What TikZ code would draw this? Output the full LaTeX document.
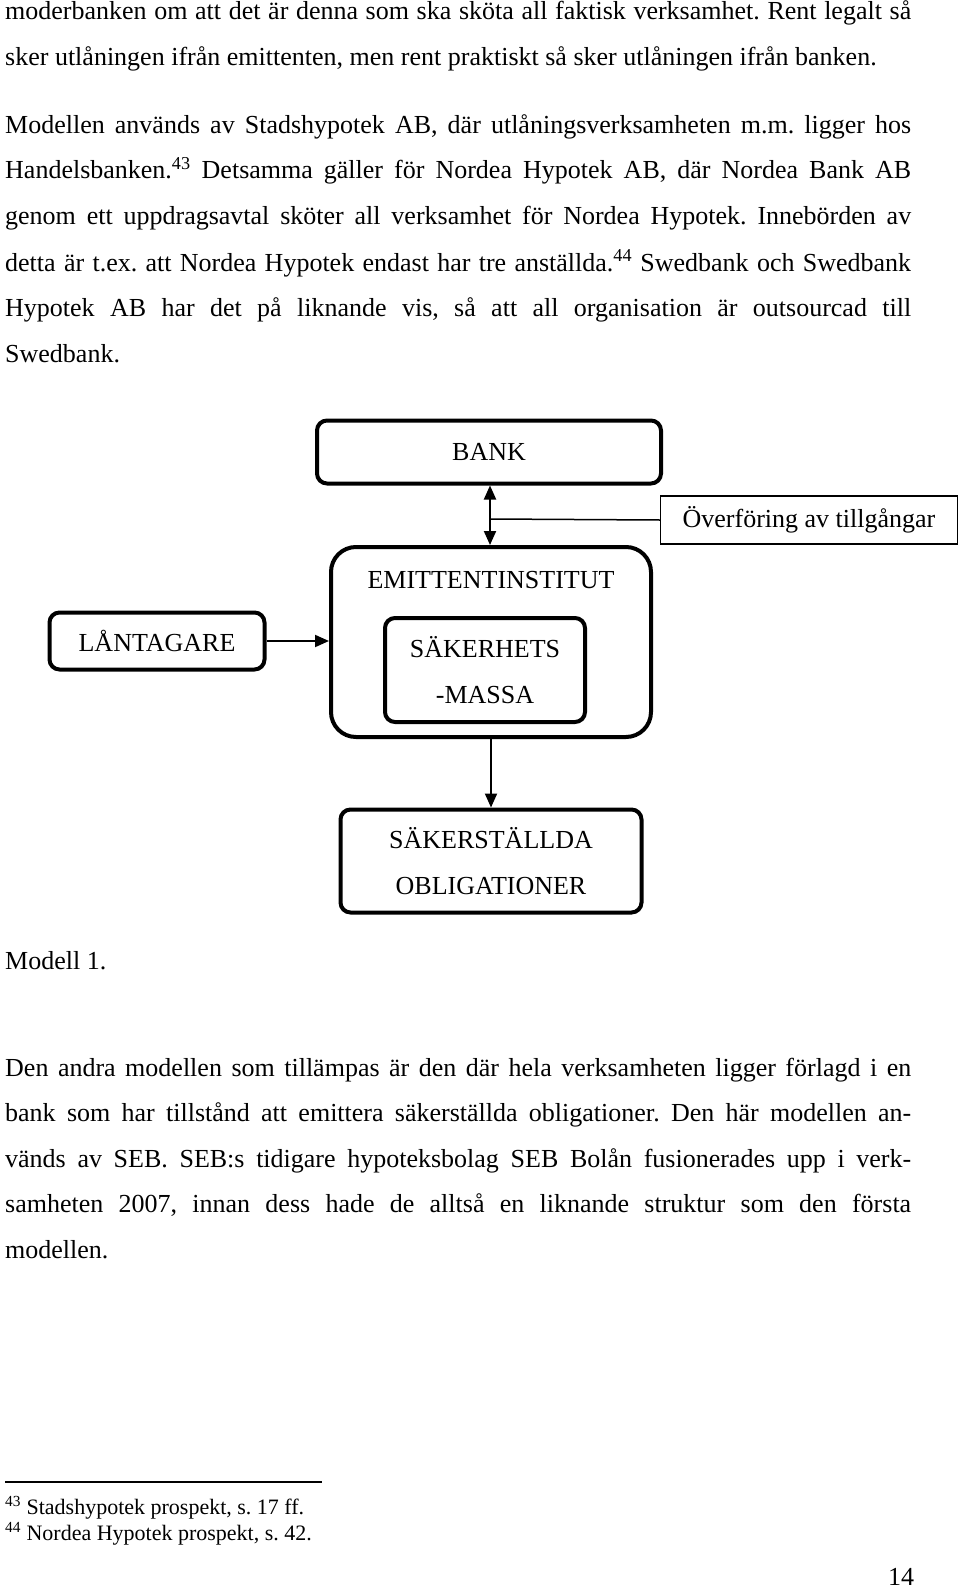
\documentclass[tikz,border=0pt]{standalone}
\usepackage{fontspec}
\setmainfont{Liberation Serif}
\usetikzlibrary{arrows.meta}
\frenchspacing

\tikzstyle{txt} = [anchor=base west, inner sep=0pt, font=\fontsize{26pt}{30pt}\selectfont]
\tikzstyle{fot} = [anchor=base west, inner sep=0pt, font=\fontsize{22pt}{26pt}\selectfont]
\tikzstyle{bloc} = [rectangle, rounded corners=10pt, style={draw, line width=4pt}, align=center, font=\fontsize{26pt}{46pt}\selectfont]
\tikzstyle{tag} = [rectangle, style={draw, line width=1.5pt}, font=\fontsize{26pt}{30pt}\selectfont]
\tikzstyle{pil} = [-{Triangle[length=14pt,width=12pt]}, style={line width=2pt}]

\newcommand{\just}[1]{\makebox[906pt][s]{#1}}

\begin{document}
\begin{tikzpicture}[x=1pt, y=-1pt]
\useasboundingbox (0,0) rectangle (960,1589);

% First paragraphs
	\node[txt] at (5,20) (l1) {\just{moderbanken om att det är denna som ska sköta all faktisk verksamhet. Rent legalt så}};
	\node[txt] at (5,66) (l2) {sker utlåningen ifrån emittenten, men rent praktiskt så sker utlåningen ifrån banken.};
	\node[txt] at (5,134) (l3) {\just{Modellen används av Stadshypotek AB, där utlåningsverksamheten m.m. ligger hos}};
	\node[txt] at (5,179) (l4) {\just{Handelsbanken.\textsuperscript{43} Detsamma gäller för Nordea Hypotek AB, där Nordea Bank AB}};
	\node[txt] at (5,225) (l5) {\just{genom ett uppdragsavtal sköter all verksamhet för Nordea Hypotek. Innebörden av}};
	\node[txt] at (5,271) (l6) {\just{detta är t.ex. att Nordea Hypotek endast har tre anställda.\textsuperscript{44} Swedbank och Swedbank}};
	\node[txt] at (5,316) (l7) {\just{Hypotek AB har det på liknande vis, så att all organisation är outsourcad till}};
	\node[txt] at (5,362) (l8) {Swedbank.};

% Model boxes
	\node[bloc, minimum width=344pt, minimum height=63pt] at (489,452) (bank) {BANK};
	\node[tag, minimum width=297pt, minimum height=48pt] at (809,520) (overf) {Överföring av tillgångar};
	\node[bloc, rounded corners=25pt, minimum width=320pt, minimum height=190pt] at (491,642) (emitt) {};
	\node[txt, anchor=center] at (491,580) (emittxt) {EMITTENTINSTITUT};
	\node[bloc, minimum width=200pt, minimum height=104pt] at (485,670) (massa) {SÄKERHETS\\-MASSA};
	\node[bloc, minimum width=215pt, minimum height=57pt] at (157,641) (lant) {LÅNTAGARE};
	\node[bloc, minimum width=301pt, minimum height=103pt] at (491,861) (oblig) {SÄKERSTÄLLDA\\OBLIGATIONER};
	\coordinate (mitt) at (490,519);

% Arrows
	\draw[pil, {Triangle[length=14pt,width=12pt]}-{Triangle[length=14pt,width=12pt]}] (bank.south -| mitt) -- (emitt.north -| mitt);
	\draw[line width=1.5pt] (mitt) -- (overf.west);
	\draw[pil] (lant.east) -- (lant.east -| emitt.west);
	\draw[pil] (emitt.south) -- (oblig.north);

% Second paragraph
	\node[txt] at (5,969) (m1) {Modell 1.};
	\node[txt] at (5,1076) (p1) {\just{Den andra modellen som tillämpas är den där hela verksamheten ligger förlagd i en}};
	\node[txt] at (5,1121) (p2) {\just{bank som har tillstånd att emittera säkerställda obligationer. Den här modellen an-}};
	\node[txt] at (5,1167) (p3) {\just{vänds av SEB. SEB:s tidigare hypoteksbolag SEB Bolån fusionerades upp i verk-}};
	\node[txt] at (5,1212) (p4) {\just{samheten 2007, innan dess hade de alltså en liknande struktur som den första}};
	\node[txt] at (5,1258) (p5) {modellen.};

% Footnotes
	\coordinate (fa) at (5,1482);
	\coordinate (fb) at (322,1482);
	\draw[line width=1.2pt] (fa) -- (fb);
	\node[fot] at (5,1514) (f1) {\textsuperscript{43} Stadshypotek prospekt, s. 17 ff.};
	\node[fot] at (5,1540) (f2) {\textsuperscript{44} Nordea Hypotek prospekt, s. 42.};
	\node[txt] at (888,1585) (sida) {14};

\end{tikzpicture}
\end{document}
